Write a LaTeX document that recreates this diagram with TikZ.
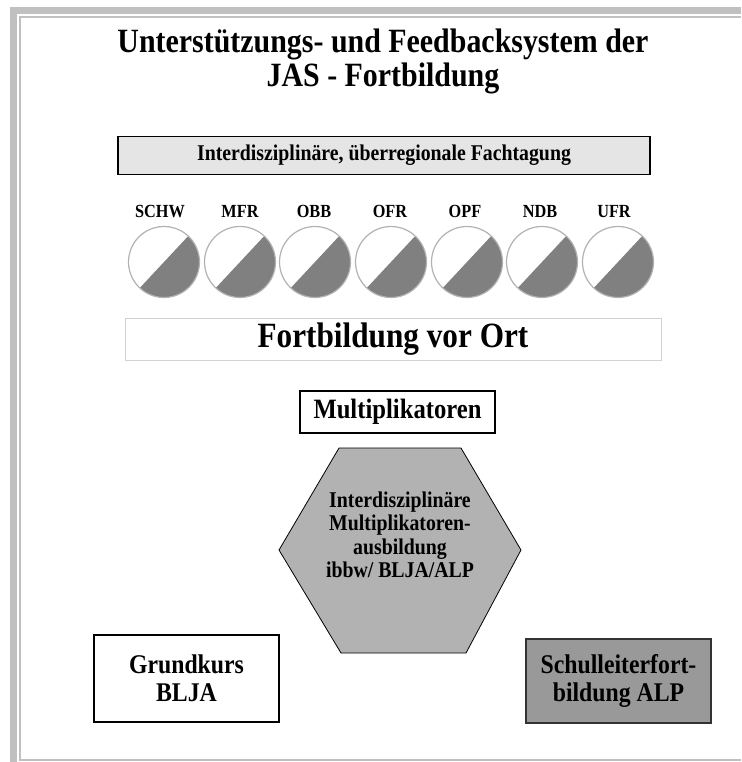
\documentclass[tikz,border=0pt]{standalone}
\usepackage{fontspec}
\setmainfont[FakeStretch=0.88]{Liberation Serif}
\definecolor{framegray}{HTML}{C0C0C0}
\definecolor{tagfill}{HTML}{E5E5E5}
\definecolor{halfgray}{HTML}{808080}
\definecolor{hexfill}{HTML}{B2B2B2}
\definecolor{slfill}{HTML}{999999}
\tikzset{
  fnt/.style={font=\bfseries\fontsize{#1}{#1}\selectfont},
  boxline/.style={draw=black, line width=1.1pt, inner sep=0pt},
  region/.style={circle, draw=gray!60, line width=1.2pt, fill=white, minimum size=71pt, inner sep=0pt,
    path picture={\fill[halfgray] (path picture bounding box.center) ++(-47:36) arc[start angle=-47, end angle=133, radius=36] -- cycle;}},
  lbl/.style={fnt=18.5, inner sep=0pt}
}
\begin{document}
\begin{tikzpicture}[x=1pt,y=-1pt]
\path[use as bounding box] (0,0) rectangle (741,762);
% frame
\fill[framegray] (10,7) rectangle (741,14);
\fill[framegray] (10,7) rectangle (17,762);
\draw[framegray, line width=2pt] (741,17) -- (20,17) -- (20,760) -- (741,760);
% title
\node[font=\bfseries\fontsize{34}{34}\selectfont, align=center] (title) at (383,61)
  {Unterstützungs- und Feedbacksystem der\\JAS - Fortbildung};
% Fachtagung
\node[boxline, fill=tagfill, minimum width=532pt, minimum height=38pt, fnt=22.5] (tag) at (384,155.5)
  {Interdisziplinäre, überregionale Fachtagung};
% regions
\foreach \nm/\lab/\cx/\lx in {schw/SCHW/164/160, mfr/MFR/240/240, obb/OBB/315/314, ofr/OFR/391/390,
    opf/OPF/467/465, ndb/NDB/542/540, ufr/UFR/618/614}{
  \node[region] (c-\nm) at (\cx,262) {};
  \node[lbl] (l-\nm) at (\lx,211.5) {\lab};
}
% Fortbildung vor Ort
\node[draw=gray!35, line width=1pt, fill=white, minimum width=536pt, minimum height=42pt, inner sep=0pt, fnt=35.5] (ort) at (393,339)
  {Fortbildung vor Ort};
% Multiplikatoren
\node[boxline, fill=white, minimum width=195pt, minimum height=42pt, fnt=28] (multi) at (397.5,412)
  {Multiplikatoren};
% hexagon
\coordinate (h1) at (279,550);
\coordinate (h2) at (339,448);
\coordinate (h3) at (461,448);
\coordinate (h4) at (521,550);
\coordinate (h5) at (466,653);
\coordinate (h6) at (341,653);
\draw[fill=hexfill, line width=0.8pt] (h1) -- (h2) -- (h3) -- (h4) -- (h5) -- (h6) -- cycle;
\node[font=\bfseries\fontsize{22.5}{23.5}\selectfont, align=center] (hex) at (400,535)
  {Interdisziplinäre\\Multiplikatoren-\\ausbildung\\ibbw/ BLJA/ALP};
% Grundkurs
\node[boxline, fill=white, minimum width=185pt, minimum height=87pt, align=center,
  font=\bfseries\fontsize{27}{28}\selectfont] (grund) at (186.5,678.5)
  {Grundkurs\\BLJA};
% Schulleiter
\node[draw=black!80, line width=1.3pt, inner sep=0pt, fill=slfill, minimum width=185pt, minimum height=84pt, align=center,
  font=\bfseries\fontsize{27}{28}\selectfont] (sl) at (618.5,681)
  {Schulleiterfort-\\bildung ALP};
\end{tikzpicture}
\end{document}
